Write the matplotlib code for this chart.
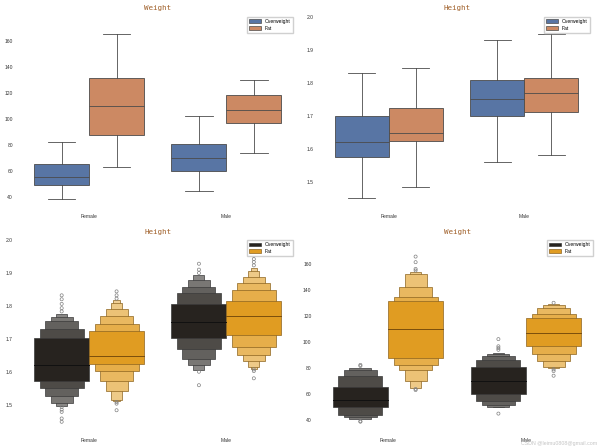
import numpy as np
import matplotlib
matplotlib.use("Agg")
import matplotlib.pyplot as plt
from matplotlib.patches import Patch
from matplotlib.colors import to_rgb

plt.rcParams["font.family"] = ["Liberation Sans", "DejaVu Sans"]

sexes = ["Female", "Male"]
groups = ["Overweight", "Fat"]

# group order everywhere: Female-Overweight, Female-Fat, Male-Overweight, Male-Fat
weight_q1 = [49.2, 87.4, 60.0, 96.8]
weight_med = [55.0, 109.9, 69.9, 106.6]
weight_q3 = [65.3, 130.9, 80.4, 117.9]
weight_lo = [38.7, 62.8, 44.9, 73.8]
weight_hi = [82.1, 164.9, 102.0, 129.9]

height_q1 = [1.574, 1.623, 1.700, 1.711]
height_med = [1.619, 1.649, 1.750, 1.769]
height_q3 = [1.700, 1.722, 1.808, 1.814]
height_lo = [1.449, 1.483, 1.559, 1.580]
height_hi = [1.830, 1.844, 1.929, 1.948]

# letter values (boxen), innermost level first
weight_lv_lo = [
    [49.7, 43.9, 42.5, 41.1],
    [87.5, 82.1, 78.3, 70.1, 64.9],
    [59.8, 54.6, 51.8, 50.3, 49.6],
    [97.0, 90.4, 85.3, 80.9, 79.7],
]
weight_lv_hi = [
    [65.5, 73.8, 78.3, 80.3],
    [131.2, 134.2, 141.9, 152.5, 153.6],
    [80.5, 86.0, 88.8, 90.5, 91.8],
    [118.0, 121.6, 126.0, 128.5, 129.4],
]
weight_outliers = [
    [82.3, 81.5, 39.0, 38.7],
    [165.5, 161.2, 156.0, 154.8, 63.8, 63.0],
    [102.1, 96.6, 95.2, 93.9, 44.9],
    [130.0, 78.9, 77.6, 74.0],
]

height_lv_lo = [
    [1.572, 1.550, 1.526, 1.504, 1.497],
    [1.623, 1.602, 1.572, 1.541, 1.514, 1.510],
    [1.701, 1.668, 1.638, 1.620, 1.605],
    [1.711, 1.675, 1.650, 1.632, 1.615, 1.609],
]
height_lv_hi = [
    [1.701, 1.731, 1.753, 1.766, 1.776],
    [1.723, 1.746, 1.769, 1.789, 1.810, 1.817],
    [1.807, 1.840, 1.857, 1.879, 1.894],
    [1.814, 1.849, 1.870, 1.889, 1.907, 1.915],
]
height_outliers = [
    [1.832, 1.820, 1.806, 1.793, 1.783, 1.493, 1.485, 1.478, 1.458, 1.448],
    [1.844, 1.832, 1.822, 1.508, 1.503, 1.483],
    [1.928, 1.910, 1.900, 1.600, 1.559],
    [1.952, 1.942, 1.933, 1.923, 1.607, 1.602, 1.580],
]

weight_ticks = [40, 60, 80, 100, 120, 140, 160]
height_ticks = [1.5, 1.6, 1.7, 1.8, 1.9, 2.0]

box_colors = ["#5875a4", "#cc8963"]
boxen_colors = ["#27231f", "#e09c22"]
boxen_edges = ["#3a3a3a", "#8c6420"]
boxen_medians = ["#111111", "#7a4e0c"]
line_gray = "#4b4b4b"
title_color = "#a0602a"
width_frac = [1.0, 0.8, 0.6, 0.4, 0.2, 0.12]
fade = [0.0, 0.18, 0.28, 0.38, 0.46, 0.52]

W, H = 600, 447
fig = plt.figure(figsize=(6, 4.47), dpi=100)


def add_ax(left, right, top, bottom):
    return fig.add_axes([left / W, 1 - bottom / H, (right - left) / W, (bottom - top) / H])


ax_tl = add_ax(20.5, 295, 14.5, 207)
ax_tr = add_ax(321, 592, 14.5, 207)
ax_bl = add_ax(20.5, 295, 237.7, 430)
ax_br = add_ax(319, 595, 237.7, 430)

xpos = [-0.2, 0.2, 0.8, 1.2]


def style(ax, title, ticks, ylim, fmt):
    for s in ax.spines.values():
        s.set_visible(False)
    ax.set_xlim(-0.5, 1.5)
    ax.set_ylim(*ylim)
    ax.set_xticks([0, 1])
    ax.set_xticklabels(sexes)
    ax.set_yticks(ticks)
    ax.set_yticklabels([fmt.format(t) for t in ticks])
    ax.tick_params(length=0, pad=5.4, labelsize=3.6, labelcolor="#333333")
    ax.set_title(title, fontsize=5.4, color=title_color, family="DejaVu Sans Mono", pad=3)


def draw_box(ax, q1, med, q3, lo, hi):
    stats = []
    for i in range(4):
        stats.append({"med": med[i], "q1": q1[i], "q3": q3[i],
                      "whislo": lo[i], "whishi": hi[i], "fliers": []})
    art = ax.bxp(stats, positions=xpos, widths=0.4, patch_artist=True,
                 showfliers=False, manage_ticks=False,
                 boxprops=dict(edgecolor=line_gray, linewidth=0.6),
                 whiskerprops=dict(color=line_gray, linewidth=0.6),
                 capprops=dict(color=line_gray, linewidth=0.6),
                 medianprops=dict(color=line_gray, linewidth=0.6))
    for i, patch in enumerate(art["boxes"]):
        patch.set_facecolor(box_colors[i % 2])
    handles = [Patch(facecolor=c, edgecolor=line_gray, linewidth=0.5) for c in box_colors]
    return handles


def blend(c, f):
    c = np.array(to_rgb(c))
    return tuple(c * (1 - f) + f)


def draw_boxen(ax, lv_lo, lv_hi, med, outs):
    for i in range(4):
        x = xpos[i]
        base = boxen_colors[i % 2]
        for lvl in reversed(range(len(lv_lo[i]))):
            lo, hi = lv_lo[i][lvl], lv_hi[i][lvl]
            ax.bar(x, hi - lo, bottom=lo, width=0.4 * width_frac[lvl],
                   color=blend(base, fade[lvl]), edgecolor=boxen_edges[i % 2],
                   linewidth=0.5, zorder=2)
        ax.plot([x - 0.2, x + 0.2], [med[i], med[i]], color=boxen_medians[i % 2],
                lw=0.7, zorder=3)
        ax.scatter([x] * len(outs[i]), outs[i], s=5, facecolors="none",
                   edgecolors="#808080", linewidths=0.5, zorder=3)
    handles = [Patch(facecolor=c, edgecolor=e, linewidth=0.5)
               for c, e in zip(boxen_colors, boxen_edges)]
    return handles


def legend(ax, handles):
    ax.legend(handles, groups, loc="upper right", fontsize=3.6, handlelength=2.3,
              handleheight=0.8, labelspacing=0.35, borderaxespad=0.5,
              frameon=True, edgecolor="#d0d0d0", framealpha=1, fancybox=False)


h = draw_box(ax_tl, weight_q1, weight_med, weight_q3, weight_lo, weight_hi)
style(ax_tl, "Weight", weight_ticks, (32.3, 180), "{:d}")
legend(ax_tl, h)

h = draw_box(ax_tr, height_q1, height_med, height_q3, height_lo, height_hi)
style(ax_tr, "Height", height_ticks, (1.423, 2.007), "{:.1f}")
legend(ax_tr, h)

h = draw_boxen(ax_bl, height_lv_lo, height_lv_hi, height_med, height_outliers)
style(ax_bl, "Height", height_ticks, (1.423, 2.007), "{:.1f}")
legend(ax_bl, h)

h = draw_boxen(ax_br, weight_lv_lo, weight_lv_hi, weight_med, weight_outliers)
style(ax_br, "Weight", weight_ticks, (32.3, 180), "{:d}")
legend(ax_br, h)

# faint watermark, bottom right
fig.text(597 / W, 1 / H, "CSDN @leimu0808@gmail.com", ha="right", va="bottom",
         fontsize=3.8, color="#c4c4c4")

fig.savefig("out.png", dpi=100)
